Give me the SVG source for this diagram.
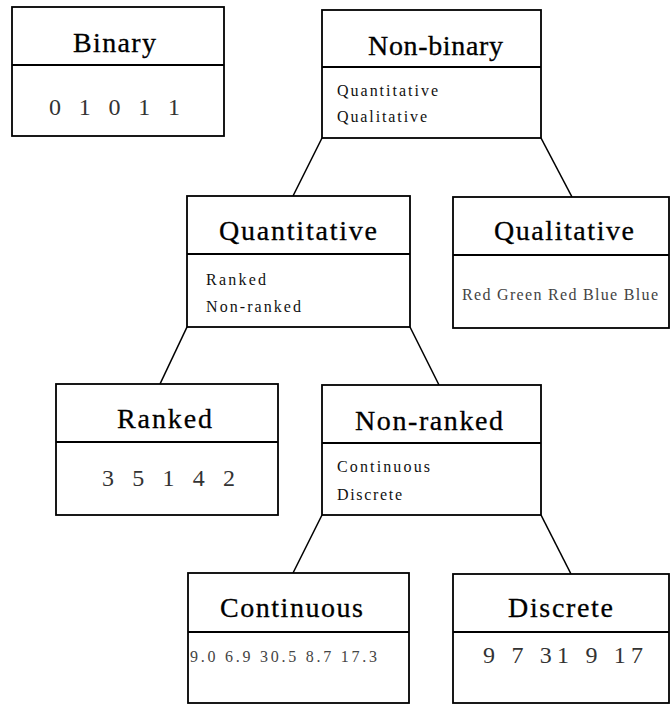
<svg xmlns="http://www.w3.org/2000/svg" width="671" height="704" viewBox="0 0 671 704">
<style>
  .box { fill: #fff; stroke: #000; stroke-width: 1.8; }
  .div { stroke: #000; stroke-width: 1.8; }
  .edge { stroke: #000; stroke-width: 1.6; fill: none; }
  .title { font-family: "Liberation Serif", "Times New Roman", serif; font-size: 28px; fill: #000; stroke: #000; stroke-width: 0.3; }
  .sub { font-family: "Liberation Serif", "Times New Roman", serif; font-size: 16px; fill: #111; }
  .big { font-family: "Liberation Serif", "Times New Roman", serif; font-size: 24px; fill: #333; }
  .small { font-family: "Liberation Serif", "Times New Roman", serif; font-size: 16px; fill: #444; }
</style>
<rect width="671" height="704" fill="#fff"/>
<g id="connectors">
  <line class="edge" x1="322" y1="138" x2="293" y2="196"/>
  <line class="edge" x1="541" y1="138" x2="572" y2="197"/>
  <line class="edge" x1="187" y1="327" x2="160" y2="384"/>
  <line class="edge" x1="410" y1="327" x2="439" y2="385"/>
  <line class="edge" x1="322" y1="515" x2="293" y2="573"/>
  <line class="edge" x1="541" y1="515" x2="571" y2="574"/>
</g>
<g id="binary">
  <rect class="box" x="12" y="7" width="212" height="129"/>
  <line class="div" x1="12" y1="65" x2="224" y2="65"/>
  <text class="title" x="73" y="52" textLength="83" lengthAdjust="spacing">Binary</text>
  <text class="big" x="49" y="115" textLength="131" lengthAdjust="spacing">0 1 0 1 1</text>
</g>
<g id="nonbinary">
  <rect class="box" x="322" y="10" width="219" height="128"/>
  <line class="div" x1="322" y1="67" x2="541" y2="67"/>
  <text class="title" x="368" y="55" textLength="135" lengthAdjust="spacing">Non-binary</text>
  <text class="sub" x="337" y="96" textLength="101" lengthAdjust="spacing">Quantitative</text>
  <text class="sub" x="337" y="122" textLength="90" lengthAdjust="spacing">Qualitative</text>
</g>
<g id="quantitative">
  <rect class="box" x="187" y="196" width="223" height="131"/>
  <line class="div" x1="187" y1="254" x2="410" y2="254"/>
  <text class="title" x="219" y="240" textLength="158" lengthAdjust="spacing">Quantitative</text>
  <text class="sub" x="206" y="285" textLength="60" lengthAdjust="spacing">Ranked</text>
  <text class="sub" x="206" y="312" textLength="95" lengthAdjust="spacing">Non-ranked</text>
</g>
<g id="qualitative">
  <rect class="box" x="453" y="197" width="216" height="131"/>
  <line class="div" x1="453" y1="255" x2="669" y2="255"/>
  <text class="title" x="494" y="240" textLength="140" lengthAdjust="spacing">Qualitative</text>
  <text class="small" x="462" y="300" textLength="196" lengthAdjust="spacing">Red Green Red Blue Blue</text>
</g>
<g id="ranked">
  <rect class="box" x="56" y="384" width="222" height="131"/>
  <line class="div" x1="56" y1="442" x2="278" y2="442"/>
  <text class="title" x="117" y="428" textLength="95" lengthAdjust="spacing">Ranked</text>
  <text class="big" x="102" y="486" textLength="133" lengthAdjust="spacing">3 5 1 4 2</text>
</g>
<g id="nonranked">
  <rect class="box" x="322" y="385" width="219" height="130"/>
  <line class="div" x1="322" y1="443" x2="541" y2="443"/>
  <text class="title" x="355" y="430" textLength="148" lengthAdjust="spacing">Non-ranked</text>
  <text class="sub" x="337" y="472" textLength="93" lengthAdjust="spacing">Continuous</text>
  <text class="sub" x="337" y="500" textLength="65" lengthAdjust="spacing">Discrete</text>
</g>
<g id="continuous">
  <rect class="box" x="188" y="573" width="221" height="130"/>
  <line class="div" x1="188" y1="632" x2="409" y2="632"/>
  <text class="title" x="220" y="617" textLength="143" lengthAdjust="spacing">Continuous</text>
  <text class="small" x="190" y="662" textLength="187" lengthAdjust="spacing">9.0 6.9 30.5 8.7 17.3</text>
</g>
<g id="discrete">
  <rect class="box" x="453" y="574" width="216" height="129"/>
  <line class="div" x1="453" y1="632" x2="669" y2="632"/>
  <text class="title" x="508" y="617" textLength="105" lengthAdjust="spacing">Discrete</text>
  <text class="big" x="483" y="663" textLength="160" lengthAdjust="spacing">9 7 31 9 17</text>
</g>
</svg>
